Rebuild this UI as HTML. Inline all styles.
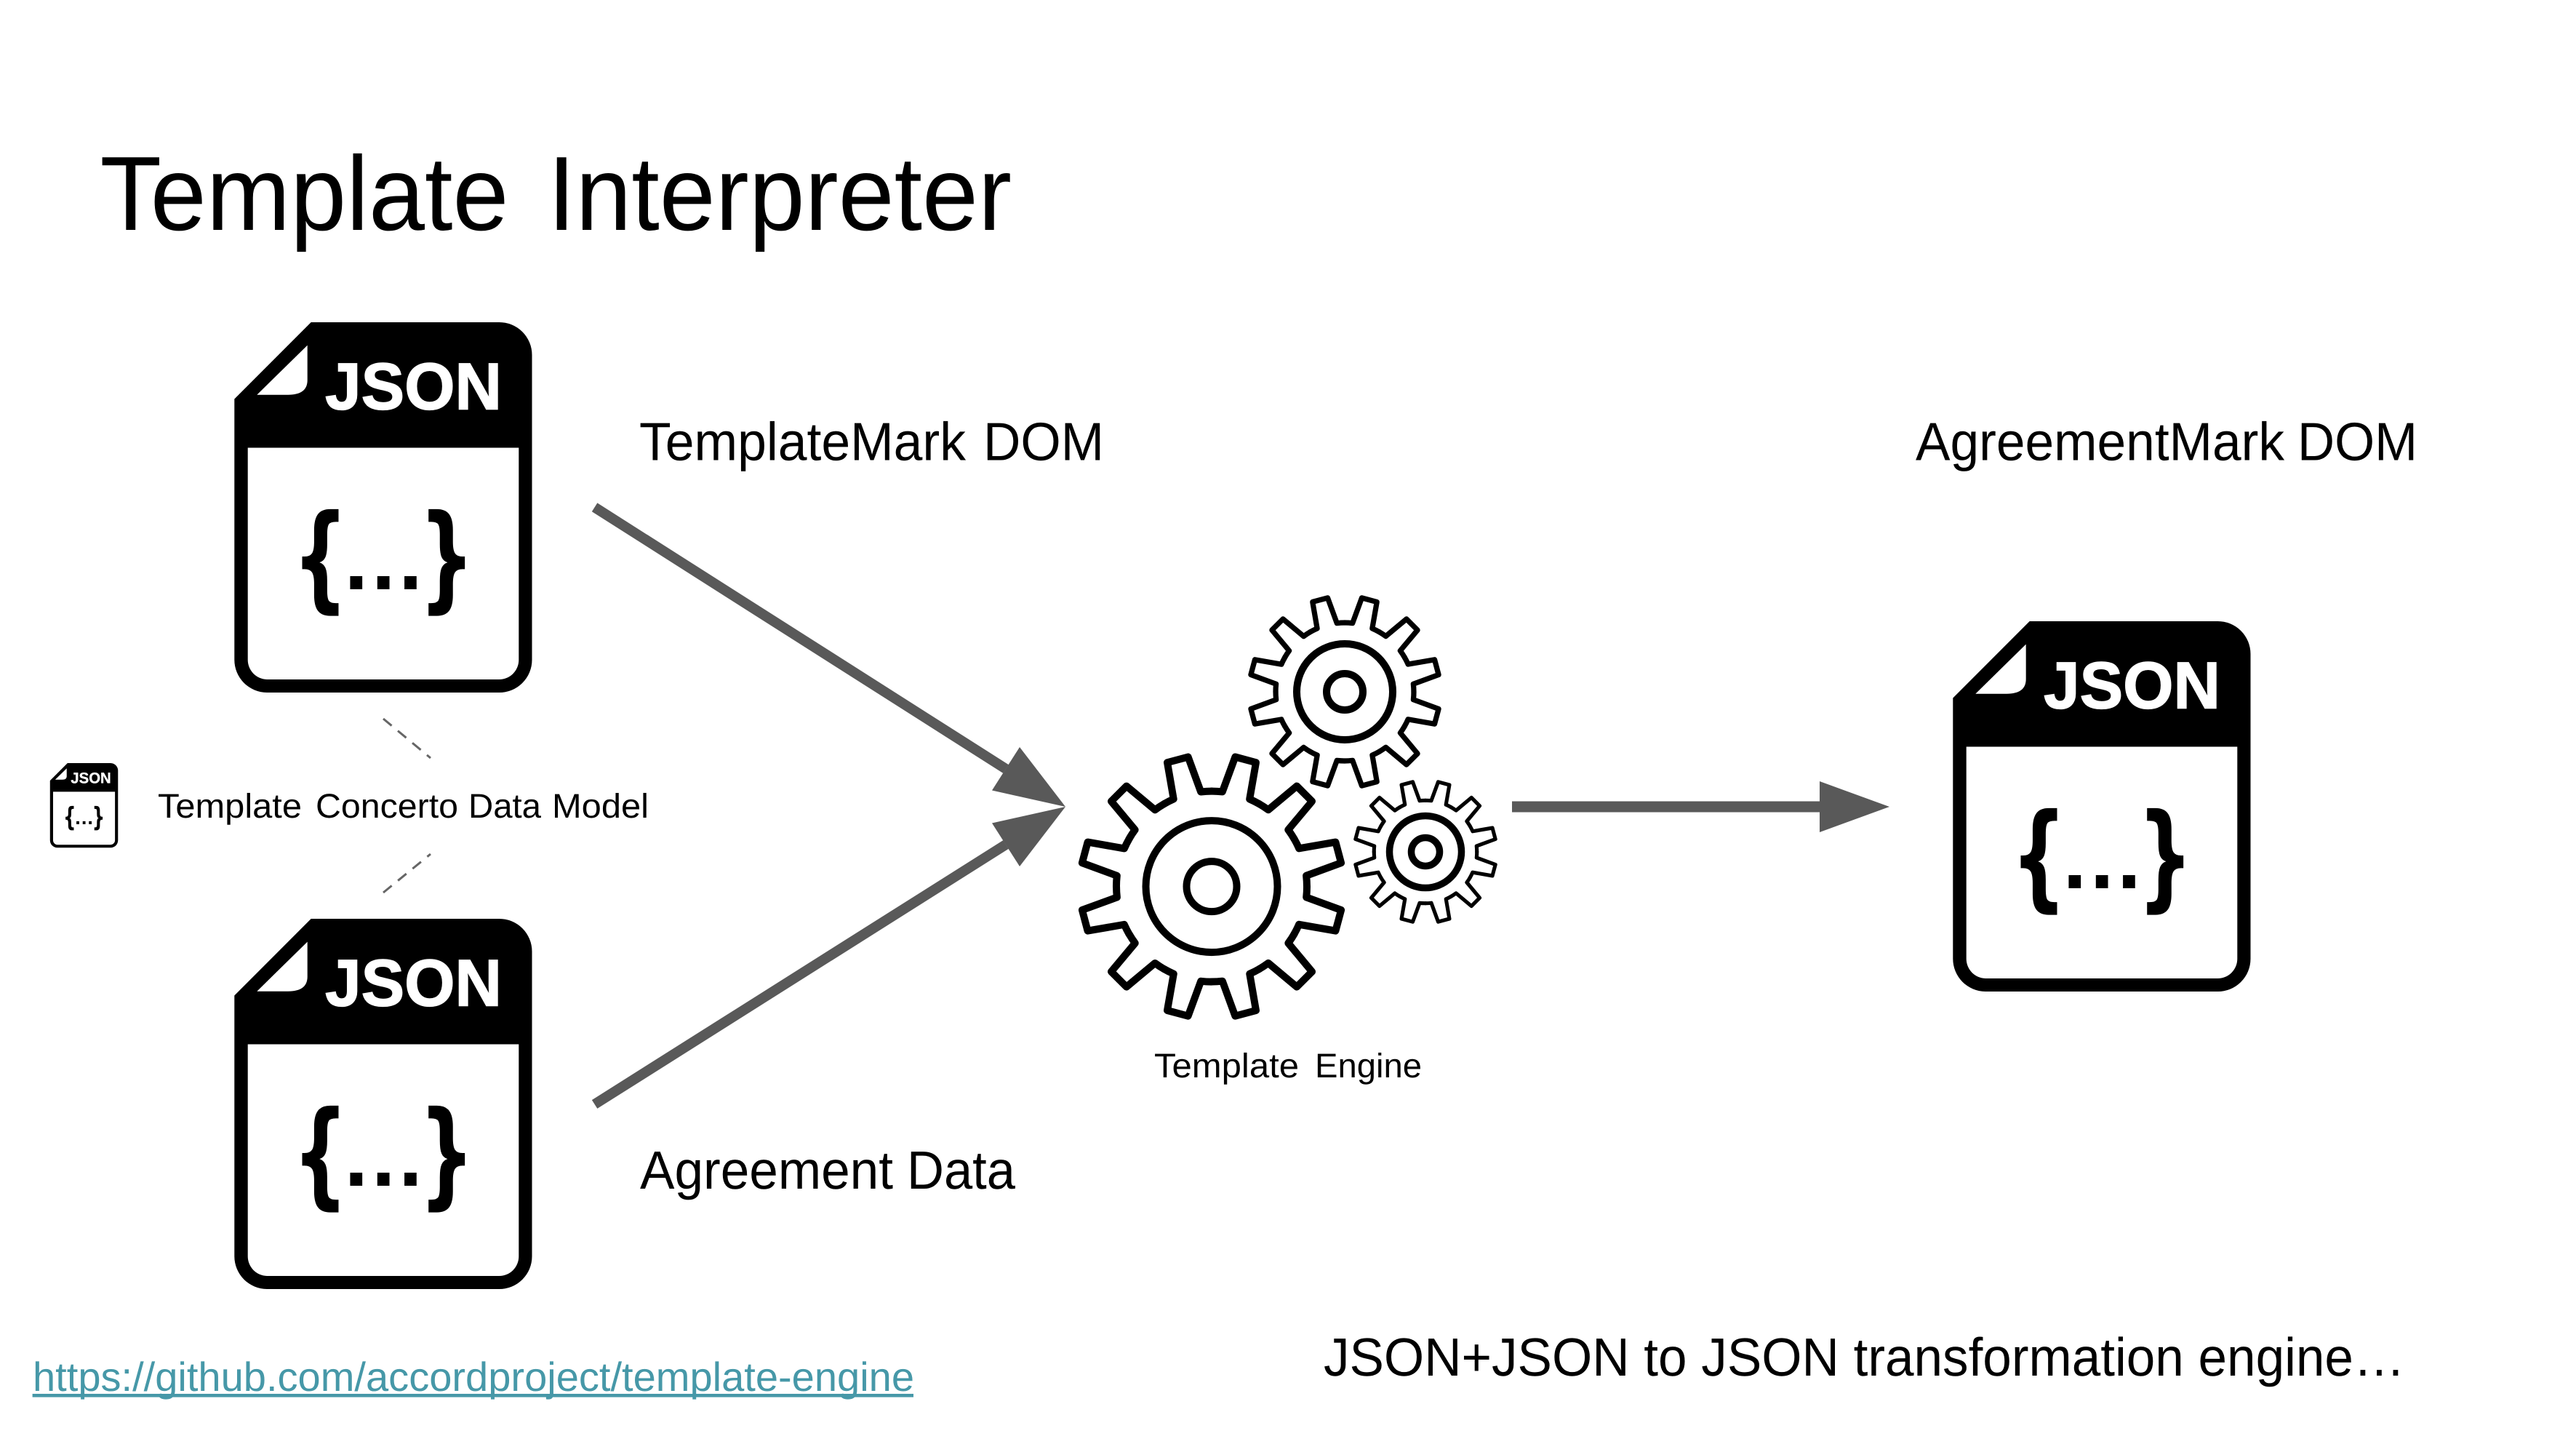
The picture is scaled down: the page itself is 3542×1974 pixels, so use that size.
<!DOCTYPE html>
<html>
<head>
<meta charset="utf-8">
<title>Template Interpreter</title>
<style>
html,body{margin:0;padding:0;background:#fff;}
svg{display:block;}
text{font-family:"Liberation Sans",Arial,sans-serif;fill:#000;text-rendering:geometricPrecision;}
.b{font-family:"DejaVu Sans",sans-serif;font-weight:bold;}
.j{font-weight:bold;font-size:91px;fill:#fff;stroke:#fff;stroke-width:1.5px;}
.t74{font-size:74px;}
.t45{font-size:47px;}
.gear{fill:none;stroke:#000;stroke-linejoin:round;stroke-linecap:round;}
.gear path,.gear circle{vector-effect:non-scaling-stroke;}
</style>
</head>
<body>
<svg xmlns="http://www.w3.org/2000/svg" width="3542" height="1974" viewBox="0 0 3542 1974">
<rect width="3542" height="1974" fill="#fff"/>
<defs>
<path id="tooth" d="M0,-131 A131,131 0 0 1 14.8,-130.2 L32.4,-178.1 L61,-170.4 L52.2,-120.1 A131,131 0 0 1 65.5,-113.4"/>
<g id="teeth">
<use href="#tooth"/>
<use href="#tooth" transform="rotate(30)"/>
<use href="#tooth" transform="rotate(60)"/>
<use href="#tooth" transform="rotate(90)"/>
<use href="#tooth" transform="rotate(120)"/>
<use href="#tooth" transform="rotate(150)"/>
<use href="#tooth" transform="rotate(180)"/>
<use href="#tooth" transform="rotate(210)"/>
<use href="#tooth" transform="rotate(240)"/>
<use href="#tooth" transform="rotate(270)"/>
<use href="#tooth" transform="rotate(300)"/>
<use href="#tooth" transform="rotate(330)"/>
</g>
<path id="docshape" fill-rule="evenodd" d="M427.7,443 H686 A45,45 0 0 1 731.5,488 V907 A45,45 0 0 1 686,952 H367 A45,45 0 0 1 322.3,907 V548.5 Z M340.7,615.5 V907 A27,27 0 0 0 367,934 H686 A27,27 0 0 0 713.3,907 V615.5 Z"/>
<path id="docflap" fill="#fff" d="M422.7,474.6 L353.3,542.7 H396 Q422.7,542.7 422.7,522.5 Z"/>
</defs>

<!-- Title -->
<text x="137.5" y="316" font-size="145" textLength="562" lengthAdjust="spacingAndGlyphs">Template</text>
<text x="753" y="316" font-size="145" textLength="638" lengthAdjust="spacingAndGlyphs">Interpreter</text>

<!-- Doc 1 -->
<g>
<use href="#docshape"/><use href="#docflap"/>
<text class="j" x="447" y="562.6" textLength="243" lengthAdjust="spacingAndGlyphs">JSON</text>
<text class="b" transform="translate(402 820.7) scale(.68 1)" font-size="159">{</text>
<text class="b" x="471.8" y="810" font-size="95" letter-spacing="1.2">...</text>
<text class="b" transform="translate(575.7 820.7) scale(.68 1)" font-size="159">}</text>
</g>

<!-- Doc 2 -->
<g transform="translate(0 820)">
<use href="#docshape"/><use href="#docflap"/>
<text class="j" x="447" y="562.6" textLength="243" lengthAdjust="spacingAndGlyphs">JSON</text>
<text class="b" transform="translate(402 820.7) scale(.68 1)" font-size="159">{</text>
<text class="b" x="471.8" y="810" font-size="95" letter-spacing="1.2">...</text>
<text class="b" transform="translate(575.7 820.7) scale(.68 1)" font-size="159">}</text>
</g>

<!-- Doc 3 -->
<g transform="translate(2363 411)">
<use href="#docshape"/><use href="#docflap"/>
<text class="j" x="447" y="562.6" textLength="243" lengthAdjust="spacingAndGlyphs">JSON</text>
<text class="b" transform="translate(402 820.7) scale(.68 1)" font-size="159">{</text>
<text class="b" x="471.8" y="810" font-size="95" letter-spacing="1.2">...</text>
<text class="b" transform="translate(575.7 820.7) scale(.68 1)" font-size="159">}</text>
</g>

<!-- Small doc -->
<g transform="translate(68.7 1049) scale(.2285) translate(-322 -443)">
<use href="#docshape"/><use href="#docflap"/>
<text class="j" x="447" y="562.6" textLength="243" lengthAdjust="spacingAndGlyphs">JSON</text>
<text class="b" transform="translate(402 820.7) scale(.68 1)" font-size="159">{</text>
<text class="b" x="471.8" y="810" font-size="95" letter-spacing="1.2">...</text>
<text class="b" transform="translate(575.7 820.7) scale(.68 1)" font-size="159">}</text>
</g>

<!-- Dashed lines -->
<line x1="527" y1="988" x2="592" y2="1042" stroke="#666" stroke-width="3" stroke-dasharray="15 11"/>
<line x1="527" y1="1227" x2="592" y2="1174" stroke="#666" stroke-width="3" stroke-dasharray="15 11"/>

<!-- Data model label -->
<text class="t45" x="217" y="1124" textLength="198" lengthAdjust="spacingAndGlyphs">Template</text>
<text class="t45" x="434" y="1124" textLength="196" lengthAdjust="spacingAndGlyphs">Concerto</text>
<text class="t45" x="644" y="1124" textLength="100" lengthAdjust="spacingAndGlyphs">Data</text>
<text class="t45" x="759" y="1124" textLength="133" lengthAdjust="spacingAndGlyphs">Model</text>

<!-- Arrows -->
<g fill="#595959" stroke="none">
<line x1="817.6" y1="697.3" x2="1383" y2="1057" stroke="#595959" stroke-width="14"/>
<polygon points="1465,1109 1402,1027 1364,1086.5"/>
<line x1="817.6" y1="1518" x2="1383" y2="1161" stroke="#595959" stroke-width="14"/>
<polygon points="1465,1109 1402,1191 1364,1131.5"/>
<rect x="2079" y="1101.5" width="425" height="15"/>
<polygon points="2598,1109 2502,1074 2502,1144"/>
</g>

<!-- Gears -->
<g class="gear" stroke-width="10">
<g transform="translate(1666 1218.6)"><use href="#teeth"/></g>
<circle cx="1666" cy="1218.6" r="90.5"/>
<circle cx="1666" cy="1218.6" r="34.5"/>
<g transform="translate(1849 951) scale(.725)"><use href="#teeth"/></g>
<circle cx="1849" cy="951" r="66"/>
<circle cx="1849" cy="951" r="25"/>
</g>
<g class="gear" stroke-width="9.5">
<g transform="translate(1960 1171) scale(.54)"><use href="#teeth"/></g>
<circle cx="1960" cy="1171" r="49.5"/>
<circle cx="1960" cy="1171" r="19.5"/>
</g>

<!-- Labels -->
<text class="t74" x="879" y="632.3" textLength="449" lengthAdjust="spacingAndGlyphs">TemplateMark</text>
<text class="t74" x="1352" y="632.3" textLength="166" lengthAdjust="spacingAndGlyphs">DOM</text>
<text class="t74" x="2634" y="632.3" textLength="507" lengthAdjust="spacingAndGlyphs">AgreementMark</text>
<text class="t74" x="3159" y="632.3" textLength="165" lengthAdjust="spacingAndGlyphs">DOM</text>
<text class="t74" x="880" y="1634" textLength="348" lengthAdjust="spacingAndGlyphs">Agreement</text>
<text class="t74" x="1247" y="1634" textLength="149" lengthAdjust="spacingAndGlyphs">Data</text>
<text class="t45" x="1587" y="1481" textLength="199" lengthAdjust="spacingAndGlyphs">Template</text>
<text class="t45" x="1808" y="1481" textLength="147" lengthAdjust="spacingAndGlyphs">Engine</text>

<!-- Footer -->
<text x="45" y="1912" font-size="56" textLength="1212" lengthAdjust="spacingAndGlyphs" style="fill:#4698a8">https://github.com/accordproject/template-engine</text>
<rect x="44.6" y="1916" width="1211.4" height="4.6" fill="#4698a8"/>
<text class="t74" x="1820" y="1891" textLength="1487" lengthAdjust="spacingAndGlyphs">JSON+JSON to JSON transformation engine…</text>
</svg>
</body>
</html>
